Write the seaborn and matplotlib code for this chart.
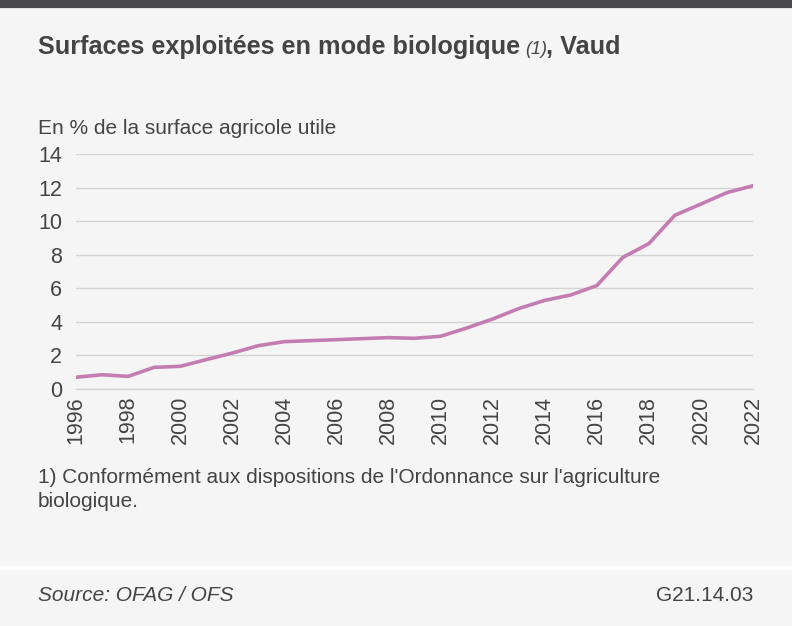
import matplotlib
matplotlib.use("Agg")
import matplotlib.pyplot as plt
import matplotlib.patches as mpatches
import pandas as pd
import seaborn as sns

years = list(range(1996, 2023))
share_bio = [0.70, 0.85, 0.75, 1.29, 1.35, 1.75, 2.14, 2.58, 2.82, 2.88,
             2.94, 3.00, 3.06, 3.02, 3.14, 3.63, 4.17, 4.79, 5.28, 5.60,
             6.16, 7.84, 8.66, 10.35, 11.02, 11.70, 12.11]
y_ticks = [0, 2, 4, 6, 8, 10, 12, 14]
x_labels = [str(y) for y in range(1996, 2023, 2)]

df = pd.DataFrame({"year": years, "share": share_bio})

sns.set_style("white")
plt.rcParams["font.family"] = ["Liberation Sans", "DejaVu Sans"]

bg = "#f5f5f5"
txt = "#444444"
grid = "#d4d4d4"

fig = plt.figure(figsize=(7.92, 6.26), dpi=100)
fig.patch.set_facecolor("white")
# top dark band, main panel, footer panel
fig.patches.append(mpatches.Rectangle((0, 1 - 7 / 626), 1, 7 / 626, transform=fig.transFigure,
                                      color="#4a4a4c", zorder=-5))
fig.patches.append(mpatches.Rectangle((0, 61 / 626), 1, (617 - 61) / 626, transform=fig.transFigure,
                                      color=bg, zorder=-5))
fig.patches.append(mpatches.Rectangle((0, 0), 1, 56 / 626, transform=fig.transFigure,
                                      color=bg, zorder=-5))

ax = fig.add_axes([76 / 792, 1 - 389 / 626, (753 - 76) / 792, (389 - 154) / 626])
ax.set_zorder(2)
ax.set_facecolor(bg)

sns.lineplot(data=df, x="year", y="share", color="#c47db3", linewidth=2.6, ax=ax)

ax.set_xlim(1996, 2022)
ax.set_ylim(0, 14)
ax.set_yticks(y_ticks)
ax.set_yticklabels([str(v) for v in y_ticks])
ax.set_xticks(years, minor=True)
ax.set_xticks(range(1996, 2023, 2))
ax.set_xticklabels(x_labels, rotation=90)
ax.set_xlabel("")
ax.set_ylabel("")

ax.grid(axis="y", color=grid, linewidth=1.0)
ax.set_axisbelow(True)
for s in ["top", "right", "left"]:
    ax.spines[s].set_visible(False)
ax.spines["bottom"].set_color(grid)
ax.spines["bottom"].set_linewidth(1.0)

ax.tick_params(axis="y", length=0, pad=10, labelsize=15.5, labelcolor=txt)
ax.tick_params(axis="x", which="both", direction="in", length=11, width=1.0, color=grid,
               pad=5, labelsize=15.5, labelcolor=txt)

fig.text(38 / 792, 1 - 54 / 626, "Surfaces exploitées en mode biologique", fontsize=18.2,
         fontweight="bold", color=txt, va="baseline")
fig.text(525 / 792, 1 - 54 / 626, "(1)", fontsize=13, style="italic", color=txt, va="baseline")
fig.text(546 / 792, 1 - 54 / 626, ", Vaud", fontsize=18.2, fontweight="bold", color=txt,
         va="baseline")

fig.text(38 / 792, 1 - 134 / 626, "En % de la surface agricole utile", fontsize=15,
         color=txt, va="baseline")

fig.text(38 / 792, 1 - 507 / 626,
         "1) Conformément aux dispositions de l'Ordonnance sur l'agriculture\nbiologique.",
         fontsize=15, color=txt, va="baseline", linespacing=1.35)

fig.text(38 / 792, 1 - 601 / 626, "Source: OFAG / OFS", fontsize=15, style="italic",
         color=txt, va="baseline")
fig.text(753 / 792, 1 - 601 / 626, "G21.14.03", fontsize=15, color=txt, va="baseline",
         ha="right")

fig.savefig("out.png", dpi=100, facecolor=fig.get_facecolor())
